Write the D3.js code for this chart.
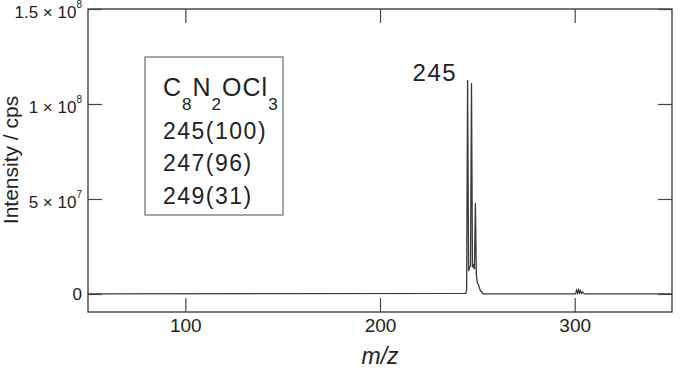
<!DOCTYPE html>
<html>
<head>
<meta charset="utf-8">
<script src="https://cdn.jsdelivr.net/npm/d3@7"></script>
<style>
  body { margin: 0; background: #fff; }
  svg { display: block; font-family: "Liberation Sans", Arial, sans-serif; }
  .axis path { display: none; }
  .axis line { stroke: #444; stroke-width: 1.2; }
</style>
</head>
<body>
<svg></svg>
<script>
// spectrum profile
let mz        = [50, 244.0, 244.5, 245.0, 245.5, 246.0, 246.5, 247.0, 247.5, 248.0, 248.5, 249.0, 249.5, 250.0, 250.5, 251.5, 253.0, 300.5, 301.0, 301.5, 302.0, 302.5, 303.0, 303.5, 304.0, 305.0, 350]
let intensity = [0, 0.3e6, 2e6, 112.6e6, 12e6, 14e6, 15e6, 111e6, 14e6, 15e6, 13e6, 47.9e6, 10e6, 6e6, 5e6, 2e6, 0, 0, 2e6, 0.5e6, 2.2e6, 0.5e6, 1.8e6, 0.3e6, 1e6, 0, 0]

let xTicks = [100, 200, 300]
let yTicks = [0, 5e7, 1e8, 1.5e8]
let yTickLabels = [['0', ''], ['5 × 10', '7'], ['1 × 10', '8'], ['1.5 × 10', '8']]
let isotopes = ['245(100)', '247(96)', '249(31)']
let formulaParts = [['C', '8'], ['N', '2'], ['OCl', '3']]

let svgWidth = 681, svgHeight = 370
let mLeft = 88, mRight = 672, mTop = 9, mBottom = 312

let svg = d3.select('svg')
  .attr('width', svgWidth)
  .attr('height', svgHeight)

let x = d3.scaleLinear().domain([50, 350]).range([mLeft, mRight])
let y = d3.scaleLinear().domain([-9.5e6, 1.5e8]).range([mBottom, mTop])

// frame
svg.append('rect')
  .attr('x', mLeft).attr('y', mTop)
  .attr('width', mRight - mLeft).attr('height', mBottom - mTop)
  .attr('fill', 'none').attr('stroke', '#333').attr('stroke-width', 1.3)

// axes with inward ticks
let bottomAxis = svg.append('g').attr('class', 'axis')
  .attr('transform', `translate(0,${mBottom})`)
  .call(d3.axisBottom(x).tickValues(xTicks).tickSizeInner(-14).tickSizeOuter(0).tickPadding(20))
bottomAxis.selectAll('text').attr('font-size', 19).attr('fill', '#222').attr('dy', 0)

svg.append('g').attr('class', 'axis')
  .attr('transform', `translate(0,${mTop})`)
  .call(d3.axisTop(x).tickValues(xTicks).tickSizeInner(-14).tickSizeOuter(0).tickFormat(''))

svg.append('g').attr('class', 'axis')
  .attr('transform', `translate(${mRight},0)`)
  .call(d3.axisRight(y).tickValues(yTicks).tickSizeInner(-14).tickSizeOuter(0).tickFormat(''))

let leftAxis = svg.append('g').attr('class', 'axis')
  .attr('transform', `translate(${mLeft},0)`)
  .call(d3.axisLeft(y).tickValues(yTicks).tickSizeInner(-14).tickSizeOuter(0).tickPadding(6).tickFormat(''))

leftAxis.selectAll('.tick text').each(function (d, i) {
  let t = d3.select(this).attr('fill', '#222').attr('font-size', 17)
  let lab = yTickLabels[i]
  if (lab[1] === '') {
    t.attr('dy', '0.35em').text(lab[0])
  } else {
    t.attr('dy', '0.5em')
    t.append('tspan').text(lab[0])
    t.append('tspan').attr('dy', -10).attr('font-size', 10).text(lab[1])
  }
})

// spectrum line
let line = d3.line()
  .x(function (d, i) { return x(mz[i]) })
  .y(function (d) { return y(d) })

svg.append('path')
  .datum(intensity)
  .attr('d', line)
  .attr('fill', 'none')
  .attr('stroke', '#3a3a3a')
  .attr('stroke-width', 1.3)

// peak label
svg.append('text')
  .attr('x', x(245) - 55).attr('y', 81)
  .attr('font-size', 24).attr('letter-spacing', 1.5).attr('fill', '#222')
  .text('245')

// legend box
svg.append('rect')
  .attr('x', 145).attr('y', 57).attr('width', 138).attr('height', 158)
  .attr('fill', '#fff').attr('stroke', '#888').attr('stroke-width', 1.5)

let formula = svg.append('text')
  .attr('x', 163).attr('y', 96)
  .attr('font-size', 25).attr('letter-spacing', 1).attr('fill', '#222')
formulaParts.forEach(function (p, i) {
  formula.append('tspan').attr('dy', i === 0 ? 0 : -14).text(p[0])
  formula.append('tspan').attr('dy', 14).attr('font-size', 17).text(p[1])
})

svg.selectAll('.iso')
  .data(isotopes)
  .enter()
  .append('text')
  .attr('class', 'iso')
  .attr('x', 163)
  .attr('y', function (d, i) { return 138.5 + i * 32.5 })
  .attr('font-size', 23).attr('letter-spacing', 1.5).attr('fill', '#222')
  .text(function (d) { return d })

// axis titles
svg.append('text')
  .attr('transform', 'translate(18,160) rotate(-90)')
  .attr('text-anchor', 'middle')
  .attr('font-size', 21).attr('fill', '#222')
  .text('Intensity / cps')

svg.append('text')
  .attr('x', 380).attr('y', 364)
  .attr('text-anchor', 'middle')
  .attr('font-size', 23).attr('font-style', 'italic').attr('fill', '#222')
  .text('m/z')
</script>
</body>
</html>
